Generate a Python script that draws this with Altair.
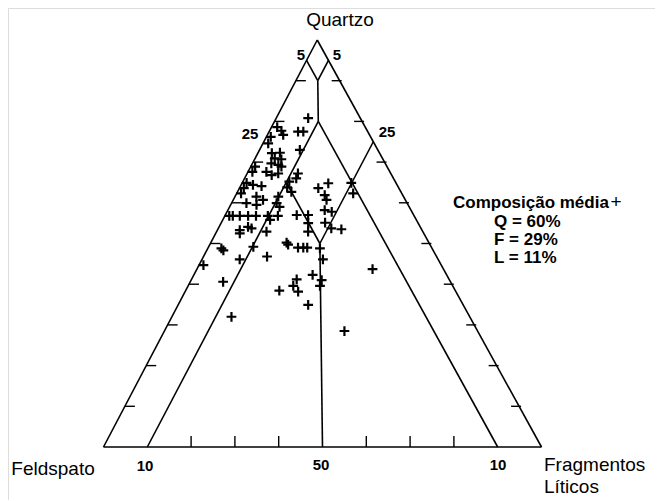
import altair as alt
import pandas as pd

# ---------------- data (percentages) ----------------
quartzo = [80.8, 78.6, 77.7, 76.7, 77.5, 77.5, 76.2, 74.6, 73.0, 72.2, 72.3, 70.9, 70.7, 69.7,
           69.3, 68.9, 68.9, 67.6, 67.6, 66.8, 67.2, 67.2, 66.0, 65.2, 63.8, 62.7, 64.9, 63.6,
           62.3, 64.4, 64.1, 63.6, 64.8, 61.9, 64.9, 62.3, 61.5, 61.5, 60.7, 60.7, 59.9, 59.5,
           59.9, 59.0, 56.8, 56.8, 56.8, 56.8, 56.8, 56.8, 56.8, 57.0, 57.0, 58.2, 57.8, 55.8,
           55.0, 55.1, 53.3, 54.1, 53.7, 52.5, 52.9, 52.9, 53.7, 53.5, 48.8, 48.3, 49.2, 50.2,
           49.7, 49.0, 49.0, 49.0, 48.8, 46.1, 46.1, 46.8, 44.7, 40.6, 42.3, 41.0, 41.2, 39.6,
           38.2, 39.6, 38.4, 43.7, 34.9, 32.0, 28.5]
liticos = [7.3, 1.3, 2.7, 3.6, 6.6, 7.8, 1.0, 1.2, 9.2, 3.2, 5.0, 4.5, 6.1, 4.3,
           6.1, 7.0, 1.0, 1.0, 4.2, 5.8, 7.1, 11.6, 11.8, 10.6, 10.8, 12.3, 1.0, 1.0,
           1.0, 2.7, 4.8, 18.0, 19.7, 20.3, 24.9, 26.6, 4.9, 9.9, 21.3, 6.8, 3.4, 5.9,
           10.3, 11.4, 1.0, 1.8, 3.4, 5.3, 7.1, 9.8, 12.1, 16.3, 18.9, 22.1, 23.9, 10.8,
           19.9, 23.7, 5.1, 6.6, 7.6, 5.5, 11.4, 20.9, 25.8, 28.2, 3.1, 3.8, 10.2, 17.3,
           17.9, 20.5, 21.7, 22.6, 25.6, 27.6, 8.6, 14.5, 1.0, 7.5, 27.1, 29.8, 24.0, 24.0,
           25.8, 30.1, 21.4, 40.1, 29.7, 13.6, 41.1]
feldspato = [round(100 - q - l, 1) for q, l in zip(quartzo, liticos)]

# field boundaries: (Q start, L start) -> (Q end, L end), percent
seg_q1 = [0, 0, 100, 95, 95, 90, 80, 80, 65, 50, 50]
seg_l1 = [0, 100, 0, 0, 5, 5, 10, 10, 10, 25, 25]
seg_q2 = [0, 100, 0, 90, 90, 80, 0, 0, 50, 75, 0]
seg_l2 = [100, 0, 0, 5, 5, 10, 10, 90, 25, 25, 50]

edge_ticks = [10, 20, 30, 40, 50, 60, 70, 80, 90]
base_ticks = [20, 30, 40, 60, 70, 80]

titles = ["Quartzo", "Feldspato"]
side_titles = ["Fragmentos", "Líticos"]
legend_lines = ["Composição média", "Q = 60%", "F = 29%", "L = 11%"]
number_labels = ["5", "5", "25", "25", "10", "50", "10"]

# ---------------- geometry ----------------
SKEW = 0.488          # horizontal shift of the apex (scan is slightly skewed)
W, H = 647, 492
PX_X0, PX_UNIT_X = 95.5, 438.0   # chart px of the Feldspato vertex, px per unit
PX_Y0, PX_UNIT_Y = 439.0, 407.0  # chart px of the base, px per unit of Q

x0 = -PX_X0 / PX_UNIT_X
x1 = x0 + W / PX_UNIT_X
y0 = -(H - PX_Y0) / PX_UNIT_Y
y1 = y0 + H / PX_UNIT_Y


def tx(q, l):
    return l / 100 + SKEW * q / 100


def ty(q):
    return q / 100


def px2x(px):  # page px -> data x
    return x0 + (px - 8) / PX_UNIT_X


def px2y(py):  # page px -> data y
    return y0 + (H - (py - 8)) / PX_UNIT_Y


xs = alt.Scale(domain=[x0, x1], nice=False, zero=False)
ys = alt.Scale(domain=[y0, y1], nice=False, zero=False)

pts = pd.DataFrame({"Q": quartzo, "F": feldspato, "L": liticos})
pts["x"] = [tx(q, l) for q, l in zip(pts.Q, pts.L)]
pts["y"] = [ty(q) for q in pts.Q]

segs = pd.DataFrame({
    "x": [tx(q, l) for q, l in zip(seg_q1, seg_l1)],
    "y": [ty(q) for q in seg_q1],
    "x2": [tx(q, l) for q, l in zip(seg_q2, seg_l2)],
    "y2": [ty(q) for q in seg_q2],
})

tick_rows = []
for q in edge_ticks:
    xl = tx(q, 0)
    tick_rows.append({"x": xl, "x2": xl + 10 / PX_UNIT_X, "y": ty(q), "y2": ty(q)})
    xr = tx(q, 100 - q)
    tick_rows.append({"x": xr - 8 / PX_UNIT_X, "x2": xr + 2 / PX_UNIT_X, "y": ty(q), "y2": ty(q)})
for l in base_ticks:
    tick_rows.append({"x": tx(0, l), "x2": tx(0, l), "y": 0, "y2": 11 / PX_UNIT_Y})
ticks = pd.DataFrame(tick_rows)

title_df = pd.DataFrame({"t": titles, "x": [px2x(340), px2x(53)], "y": [px2y(20), px2y(469)]})
side_df = pd.DataFrame({"t": side_titles, "x": [px2x(544), px2x(544)], "y": [px2y(465), px2y(487)]})
legend_df = pd.DataFrame({"t": legend_lines,
                          "x": [px2x(453), px2x(494), px2x(494), px2x(494)],
                          "y": [px2y(203), px2y(222), px2y(240), px2y(258)]})
sym_df = pd.DataFrame({"t": ["+"], "x": [px2x(616)], "y": [px2y(202)]})
num_df = pd.DataFrame({"t": number_labels,
                       "x": [px2x(301), px2x(337), px2x(250), px2x(387), px2x(145), px2x(321), px2x(498)],
                       "y": [px2y(55), px2y(55), px2y(134), px2y(132), px2y(466), px2y(465), px2y(465)]})

FONT = "Liberation Sans"

lines = alt.Chart(segs).mark_rule(color="black", strokeWidth=1.6).encode(
    x=alt.X("x:Q", scale=xs, axis=None), y=alt.Y("y:Q", scale=ys, axis=None),
    x2="x2:Q", y2="y2:Q")
tick_layer = alt.Chart(ticks).mark_rule(color="black", strokeWidth=1.4).encode(
    x=alt.X("x:Q", scale=xs, axis=None), y=alt.Y("y:Q", scale=ys, axis=None),
    x2="x2:Q", y2="y2:Q")
points = alt.Chart(pts).mark_point(
    shape="M-1,0L1,0M0,-1L0,1", size=95, strokeWidth=2.2, color="black", filled=False, opacity=1
).encode(x=alt.X("x:Q", scale=xs, axis=None), y=alt.Y("y:Q", scale=ys, axis=None),
         tooltip=["Q", "F", "L"])

def text_layer(df, size, weight, align):
    return alt.Chart(df).mark_text(font=FONT, fontSize=size, fontWeight=weight, align=align,
                                   baseline="middle", color="black").encode(
        x=alt.X("x:Q", scale=xs, axis=None), y=alt.Y("y:Q", scale=ys, axis=None), text="t:N")

chart = alt.layer(
    lines, tick_layer, points,
    text_layer(title_df, 19, "normal", "center"),
    text_layer(side_df, 19, "normal", "left"),
    text_layer(legend_df, 17, "bold", "left"),
    text_layer(sym_df, 19, "normal", "center"),
    text_layer(num_df, 15, "bold", "center"),
).properties(width=W, height=H, padding=0, autosize=alt.AutoSizeParams(type="none")
).configure_view(stroke=None).configure(background="white")

chart.save("out.html", embed_options={"renderer": "svg", "actions": False})
